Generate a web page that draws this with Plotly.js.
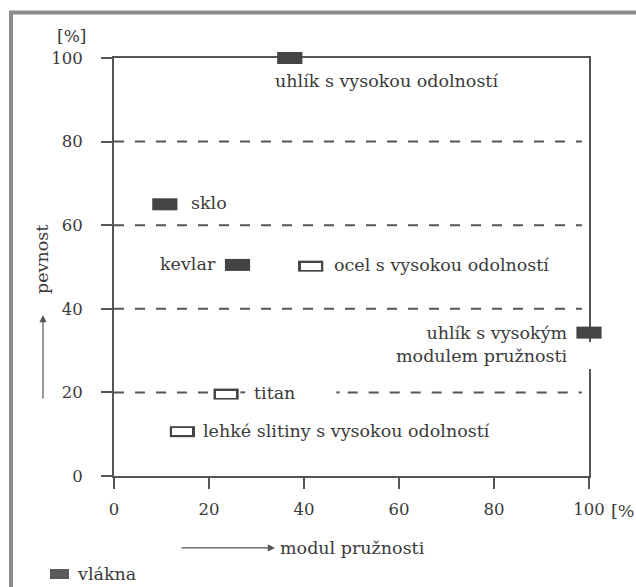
<!DOCTYPE html>
<html>
<head>
<meta charset="utf-8">
<script src="https://cdn.plot.ly/plotly-3.0.1.min.js"></script>
<style>html,body{margin:0;padding:0;background:#fff;}#chart{width:636px;height:587px;}</style>
</head>
<body>
<div id="chart"></div>
<script>
// ---- data ----
const fiberNames = ["uhlík s vysokou odolností", "sklo", "kevlar", "uhlík s vysokým<br>modulem pružnosti"];
const fiberModulus = [37, 10.7, 26, 100];
const fiberStrength = [100, 65, 50.5, 34.3];

const metalNames = ["ocel s vysokou odolností", "titan", "lehké slitiny s vysokou odolností"];
const metalModulus = [41.4, 23.6, 14.4];
const metalStrength = [50.2, 19.6, 10.6];

const tickVals = [0, 20, 40, 60, 80, 100];
const gridVals = [20, 40, 60, 80];

// ---- styles ----
const FONT = "DejaVu Serif";
const FS = 17.5;
const INK = "#3a3a3a";
const LINE = "#555555";
const FILL = "#5a5a5a";

const fiberLabelPos = [
  {xanchor: "left", xshift: -17, yshift: -23},
  {xanchor: "left", xshift: 24, yshift: 1},
  {xanchor: "right", xshift: -20, yshift: 1},
  {xanchor: "right", xshift: -19, yshift: -12, align: "right"}
];
const metalLabelPos = [
  {xanchor: "left", xshift: 21, yshift: 1},
  {xanchor: "left", xshift: 26, yshift: 1},
  {xanchor: "left", xshift: 19, yshift: 1}
];

const traces = [
  { // fibres (filled bars)
    type: "scatter", mode: "markers", x: fiberModulus, y: fiberStrength,
    text: fiberNames, hoverinfo: "text", cliponaxis: false, showlegend: false,
    marker: {symbol: "line-ew", size: 18, color: FILL, line: {width: 12}}
  },
  { // metals (outlined bars, interior added below)
    type: "scatter", mode: "markers", x: metalModulus, y: metalStrength,
    text: metalNames, hoverinfo: "text", cliponaxis: false, showlegend: false,
    marker: {symbol: "line-ew", size: 18, color: "#4a4a4a", line: {width: 11}}
  }
];

const annotations = [];
// white interior of the outlined (metal) marks
metalNames.forEach((n, i) => {
  annotations.push({x: metalModulus[i], y: metalStrength[i], xref: "x", yref: "y", text: " ",
    showarrow: false, xanchor: "center", yanchor: "middle", width: 20, height: 7,
    borderpad: 0, borderwidth: 0, bgcolor: "#ffffff", font: {size: 1}});
});
fiberNames.forEach((n, i) => {
  const p = fiberLabelPos[i];
  annotations.push({x: fiberModulus[i], y: fiberStrength[i], xref: "x", yref: "y", text: n,
    showarrow: false, xanchor: p.xanchor, yanchor: "middle", xshift: p.xshift, yshift: p.yshift,
    align: p.align || "left", font: {family: FONT, size: FS, color: INK}});
});
metalNames.forEach((n, i) => {
  const p = metalLabelPos[i];
  annotations.push({x: metalModulus[i], y: metalStrength[i], xref: "x", yref: "y", text: n,
    showarrow: false, xanchor: p.xanchor, yanchor: "middle", xshift: p.xshift, yshift: p.yshift,
    font: {family: FONT, size: FS, color: INK}});
});
annotations.push(
  {xref: "paper", yref: "paper", x: -0.1505, y: 0.518, text: "pevnost", textangle: -90, showarrow: false,
   xanchor: "center", yanchor: "middle", font: {family: FONT, size: FS, color: INK}},
  {xref: "paper", yref: "paper", x: 0.345, y: -0.172, text: "modul pružnosti", showarrow: false,
   xanchor: "left", yanchor: "middle", font: {family: FONT, size: FS, color: INK}},
  {xref: "paper", yref: "paper", x: -0.0905, y: 1.0526, text: "[%]", showarrow: false,
   xanchor: "center", yanchor: "middle", font: {family: FONT, size: 17, color: INK}},
  {xref: "paper", yref: "paper", x: 1.042, y: -0.0837, text: "[%", showarrow: false,
   xanchor: "left", yanchor: "middle", font: {family: FONT, size: FS, color: INK}},
  {xref: "paper", yref: "paper", x: -0.1495, y: 0.385, ax: 0, ay: 85, text: "", showarrow: true,
   arrowhead: 2, arrowsize: 1.2, arrowwidth: 1.2, arrowcolor: LINE},
  {xref: "paper", yref: "paper", x: 0.339, y: -0.172, ax: -95, ay: 0, text: "", showarrow: true,
   arrowhead: 2, arrowsize: 1.2, arrowwidth: 1.2, arrowcolor: LINE},
  {xref: "paper", yref: "paper", x: -0.082, y: -0.2345, text: "vlákna", showarrow: false,
   xanchor: "left", yanchor: "middle", font: {family: FONT, size: FS, color: INK}}
);

const dash = "10px,11px";
const shapes = [];
gridVals.forEach(v => {
  const seg = (a, b, d) => shapes.push({type: "line", xref: "x", yref: "y", x0: a, x1: b, y0: v, y1: v,
    layer: "below", line: {color: LINE, width: 2, dash: d}});
  if (v === 20) {
    seg(0, 21, dash);
    seg(26.6, 27.6, "solid");
    seg(46.8, 47.5, "solid");
    seg(49.2, 98.5, dash);
  } else {
    seg(0, 98.5, dash);
  }
});
// gap in the right frame line
shapes.push({type: "rect", xref: "paper", yref: "paper", x0: 0.985, x1: 1.02, y0: (476 - 369) / 418, y1: (476 - 342) / 418,
  fillcolor: "#ffffff", line: {width: 0}, layer: "above"});
// outer grey frame
shapes.push({type: "rect", xref: "paper", yref: "paper", x0: -0.2168, x1: 1.3, y0: -0.4, y1: 1.1089,
  line: {color: "#8c8c8c", width: 4}, fillcolor: "rgba(0,0,0,0)", layer: "below"});
// legend swatch
shapes.push({type: "rect", xref: "paper", yref: "paper", x0: -0.1347, x1: -0.0947, y0: -0.2464, y1: -0.2225,
  fillcolor: FILL, line: {width: 0}});

const axisCommon = {
  range: [0, 100], tickvals: tickVals, ticks: "outside", ticklen: 11, tickwidth: 2, tickcolor: LINE,
  showline: true, linecolor: LINE, linewidth: 2, mirror: true, showgrid: false, zeroline: false,
  tickfont: {family: FONT, size: 16.5, color: INK}, layer: "below traces", fixedrange: true
};

const layout = {
  width: 636, height: 587,
  margin: {l: 114, r: 47, t: 58, b: 111, pad: 0},
  paper_bgcolor: "#ffffff", plot_bgcolor: "#ffffff",
  font: {family: FONT, size: FS, color: INK},
  showlegend: false,
  xaxis: Object.assign({}, axisCommon, {ticklabelstandoff: 6}),
  yaxis: Object.assign({}, axisCommon, {ticklabelstandoff: 15}),
  annotations: annotations,
  shapes: shapes
};

Plotly.newPlot("chart", traces, layout, {displayModeBar: false, staticPlot: true});
</script>
</body>
</html>
